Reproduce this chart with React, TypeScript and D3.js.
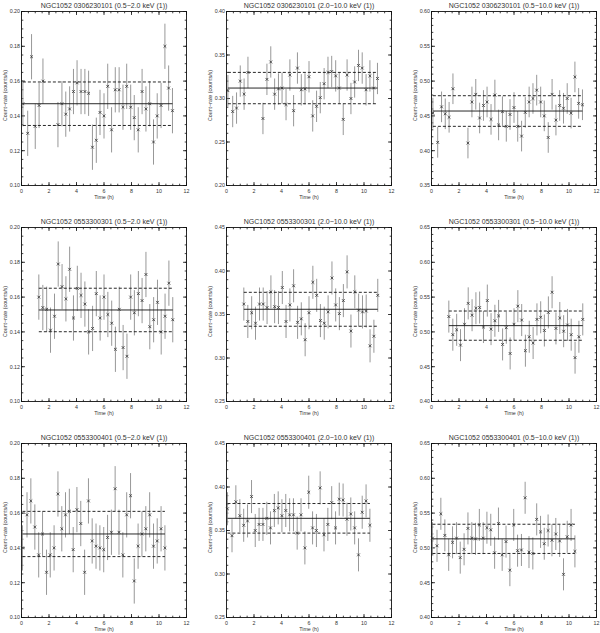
import React, { useEffect, useRef } from 'react';
import * as d3 from 'd3';

// observation time grids (hours)
const times0306 = [0.1, 0.45, 0.73, 1.0, 1.28, 1.56, 2.65, 2.94, 3.22, 3.5, 3.78, 4.04, 4.33, 4.61, 4.88, 5.16, 5.44, 5.71, 6.0, 6.27, 6.55, 6.82, 7.1, 7.38, 7.65, 7.94, 8.2, 8.49, 8.77, 9.05, 9.32, 9.6, 9.87, 10.15, 10.43, 10.7, 10.98];
const times0553a = [1.26, 1.55, 1.83, 2.11, 2.4, 2.67, 2.95, 3.23, 3.5, 3.78, 4.06, 4.33, 4.61, 4.88, 5.17, 5.44, 5.72, 6.0, 6.28, 6.56, 6.83, 7.11, 7.39, 7.67, 7.94, 8.21, 8.5, 8.77, 9.05, 9.33, 9.61, 9.89, 10.16, 10.44, 10.72, 11.0];
const times0553b = [0.07, 0.4, 0.68, 0.97, 1.25, 1.53, 1.82, 2.09, 2.37, 2.65, 2.93, 3.2, 3.48, 3.76, 4.03, 4.31, 4.59, 4.87, 5.14, 5.42, 5.7, 5.98, 6.26, 6.54, 6.81, 7.09, 7.37, 7.65, 7.93, 8.2, 8.48, 8.76, 9.04, 9.32, 9.6, 9.87, 10.15, 10.43];

// count rates (counts/s)
const rate0306Soft = [0.147, 0.130, 0.174, 0.134, 0.146, 0.160, 0.135, 0.147, 0.141, 0.144, 0.154, 0.159, 0.154, 0.154, 0.153, 0.122, 0.126, 0.142, 0.140, 0.157, 0.132, 0.155, 0.155, 0.145, 0.157, 0.145, 0.139, 0.132, 0.154, 0.144, 0.147, 0.125, 0.140, 0.146, 0.180, 0.156, 0.143];
const rate0306Hard = [0.309, 0.285, 0.289, 0.320, 0.305, 0.330, 0.277, 0.322, 0.342, 0.305, 0.311, 0.312, 0.293, 0.327, 0.286, 0.335, 0.310, 0.311, 0.325, 0.280, 0.291, 0.301, 0.317, 0.330, 0.331, 0.326, 0.312, 0.276, 0.327, 0.300, 0.319, 0.338, 0.335, 0.310, 0.326, 0.312, 0.323];
const rate0306Full = [0.454, 0.412, 0.463, 0.453, 0.448, 0.489, 0.411, 0.470, 0.481, 0.447, 0.465, 0.470, 0.445, 0.480, 0.437, 0.456, 0.435, 0.452, 0.462, 0.435, 0.421, 0.455, 0.470, 0.475, 0.487, 0.470, 0.450, 0.419, 0.481, 0.444, 0.465, 0.461, 0.475, 0.454, 0.506, 0.468, 0.466];
const rate0301Soft = [0.160, 0.154, 0.153, 0.141, 0.149, 0.179, 0.166, 0.159, 0.176, 0.148, 0.165, 0.161, 0.156, 0.140, 0.142, 0.162, 0.148, 0.160, 0.150, 0.145, 0.130, 0.153, 0.131, 0.126, 0.160, 0.151, 0.162, 0.158, 0.173, 0.143, 0.147, 0.157, 0.140, 0.149, 0.168, 0.147];
const rate0301Hard = [0.362, 0.342, 0.352, 0.340, 0.362, 0.362, 0.358, 0.376, 0.359, 0.358, 0.381, 0.342, 0.361, 0.383, 0.341, 0.345, 0.321, 0.352, 0.387, 0.372, 0.343, 0.340, 0.353, 0.392, 0.361, 0.351, 0.366, 0.399, 0.331, 0.376, 0.355, 0.353, 0.354, 0.314, 0.325, 0.372];
const rate0301Full = [0.522, 0.496, 0.503, 0.481, 0.511, 0.541, 0.524, 0.534, 0.535, 0.507, 0.545, 0.504, 0.516, 0.523, 0.482, 0.506, 0.469, 0.511, 0.537, 0.517, 0.473, 0.493, 0.484, 0.518, 0.521, 0.502, 0.528, 0.557, 0.505, 0.520, 0.501, 0.510, 0.496, 0.463, 0.493, 0.518];
const rate0401Soft = [0.140, 0.159, 0.167, 0.152, 0.136, 0.148, 0.126, 0.136, 0.140, 0.171, 0.151, 0.159, 0.161, 0.139, 0.162, 0.154, 0.126, 0.167, 0.144, 0.141, 0.140, 0.139, 0.146, 0.149, 0.174, 0.149, 0.136, 0.159, 0.170, 0.121, 0.141, 0.148, 0.151, 0.159, 0.141, 0.144, 0.151, 0.140];
const rate0401Hard = [0.375, 0.344, 0.383, 0.367, 0.356, 0.361, 0.389, 0.350, 0.357, 0.357, 0.364, 0.353, 0.373, 0.376, 0.367, 0.373, 0.368, 0.368, 0.347, 0.368, 0.330, 0.394, 0.353, 0.350, 0.399, 0.345, 0.357, 0.382, 0.353, 0.386, 0.385, 0.363, 0.369, 0.353, 0.322, 0.371, 0.384, 0.356];
const rate0401Full = [0.514, 0.503, 0.549, 0.518, 0.490, 0.508, 0.514, 0.486, 0.498, 0.528, 0.514, 0.513, 0.533, 0.514, 0.529, 0.526, 0.493, 0.535, 0.490, 0.509, 0.468, 0.533, 0.496, 0.497, 0.572, 0.494, 0.492, 0.541, 0.523, 0.506, 0.525, 0.511, 0.520, 0.510, 0.462, 0.516, 0.533, 0.495];

const titles = [
  'NGC1052 0306230101 (0.5\u22122.0 keV (1))',
  'NGC1052 0306230101 (2.0\u221210.0 keV (1))',
  'NGC1052 0306230101 (0.5\u221210.0 keV (1))',
  'NGC1052 0553300301 (0.5\u22122.0 keV (1))',
  'NGC1052 0553300301 (2.0\u221210.0 keV (1))',
  'NGC1052 0553300301 (0.5\u221210.0 keV (1))',
  'NGC1052 0553300401 (0.5\u22122.0 keV (1))',
  'NGC1052 0553300401 (2.0\u221210.0 keV (1))',
  'NGC1052 0553300401 (0.5\u221210.0 keV (1))',
];
const yDomains = [[0.10, 0.20], [0.20, 0.40], [0.35, 0.60], [0.10, 0.20], [0.25, 0.45], [0.40, 0.65], [0.10, 0.20], [0.25, 0.45], [0.40, 0.65]];
const yTickSteps = [0.02, 0.05, 0.05, 0.02, 0.05, 0.05, 0.02, 0.05, 0.05];
const meanLevels = [0.147, 0.312, 0.457, 0.1526, 0.356, 0.509, 0.148, 0.364, 0.513];
const rmsLevels = [0.0125, 0.018, 0.022, 0.0125, 0.0195, 0.021, 0.013, 0.017, 0.021];
const errSizes = [0.013, 0.018, 0.022, 0.013, 0.019, 0.023, 0.013, 0.019, 0.023];

const timeSets = [times0306, times0306, times0306, times0553a, times0553a, times0553a, times0553b, times0553b, times0553b];
const rateSets = [rate0306Soft, rate0306Hard, rate0306Full, rate0301Soft, rate0301Hard, rate0301Full, rate0401Soft, rate0401Hard, rate0401Full];

const W = 600, H = 633;
const font = '"Liberation Sans", Arial, sans-serif';
const small = 5.3;

export default function App() {
  const ref = useRef<SVGSVGElement>(null);

  useEffect(() => {
    const svg = d3.select(ref.current);
    svg.selectAll('*').remove();

    titles.forEach((title, i) => {
      const col = i % 3, row = Math.floor(i / 3);
      const left = 21.5 + col * 205, top = 11.5 + row * 216;
      const w = 165, h = 174;
      const [lo, hi] = yDomains[i];
      const step = yTickSteps[i];
      const x = d3.scaleLinear().domain([0, 12]).range([left, left + w]);
      const y = d3.scaleLinear().domain([lo, hi]).range([top + h, top]);
      const g = svg.append('g');

      // ticks: IDL style, inward on all four sides
      const xMajor = d3.range(7).map(k => k * 2);
      const xMinor = d3.range(25).map(k => k * 0.5);
      const nY = Math.round((hi - lo) / step);
      const yMajor = d3.range(nY + 1).map(k => lo + k * step);
      const minorPer = step === 0.02 ? 4 : 5;
      const yMinor = d3.range(nY * minorPer + 1).map(k => lo + k * step / minorPer);
      const tick = (x1, y1, x2, y2) => g.append('line')
        .attr('x1', x1).attr('y1', y1).attr('x2', x2).attr('y2', y2)
        .attr('stroke', '#111').attr('stroke-width', 0.8);

      xMinor.forEach(v => { tick(x(v), top + h, x(v), top + h - 1.8); tick(x(v), top, x(v), top + 1.8); });
      xMajor.forEach(v => { tick(x(v), top + h, x(v), top + h - 3.5); tick(x(v), top, x(v), top + 3.5); });
      yMinor.forEach(v => { tick(left, y(v), left + 1.8, y(v)); tick(left + w, y(v), left + w - 1.8, y(v)); });
      yMajor.forEach(v => { tick(left, y(v), left + 3.5, y(v)); tick(left + w, y(v), left + w - 3.5, y(v)); });

      g.append('rect').attr('x', left).attr('y', top).attr('width', w).attr('height', h)
        .attr('fill', 'none').attr('stroke', '#111').attr('stroke-width', 0.9);

      g.selectAll('.xl').data(xMajor).enter().append('text')
        .attr('x', d => x(d)).attr('y', top + h + 7.2)
        .attr('text-anchor', 'middle').attr('font-size', small).attr('fill', '#333')
        .attr('font-family', font).text(d => d3.format('d')(d));
      g.selectAll('.yl').data(yMajor).enter().append('text')
        .attr('x', left - 1.5).attr('y', d => y(d) + 1.9)
        .attr('text-anchor', 'end').attr('font-size', small).attr('fill', '#333')
        .attr('font-family', font).text(d => d3.format('.2f')(d));

      g.append('text').attr('x', left + w / 2).attr('y', top + h + 13)
        .attr('text-anchor', 'middle').attr('font-size', small).attr('fill', '#333')
        .attr('font-family', font).text('Time (h)');
      g.append('text')
        .attr('transform', `translate(${left - 16.5},${top + h / 2 - 3}) rotate(-90)`)
        .attr('dy', 1.9).attr('text-anchor', 'middle').attr('font-size', small).attr('fill', '#333')
        .attr('font-family', font).text('Count\u2212rate (counts/s)');
      g.append('text').attr('x', left + w / 2).attr('y', top - 3.5)
        .attr('text-anchor', 'middle').attr('font-size', 7).attr('fill', '#333')
        .attr('font-family', font).text(title);

      const ts = timeSets[i], rs = rateSets[i], e = errSizes[i];
      const pts = ts.map((t, k) => ({ t, r: rs[k] }));

      // error bars
      g.selectAll('.eb').data(pts).enter().append('line')
        .attr('x1', d => x(d.t)).attr('x2', d => x(d.t))
        .attr('y1', d => y(d.r - e)).attr('y2', d => y(d.r + e))
        .attr('stroke', '#8c8c8c').attr('stroke-width', 0.9);

      // mean and +/- rms levels
      const t0 = ts[0], t1 = ts[ts.length - 1];
      const level = (v, dash) => g.append('line')
        .attr('x1', x(t0)).attr('x2', x(t1)).attr('y1', y(v)).attr('y2', y(v))
        .attr('stroke', '#111').attr('stroke-width', 0.9)
        .attr('stroke-dasharray', dash);
      level(meanLevels[i], null);
      level(meanLevels[i] + rmsLevels[i], '3,2');
      level(meanLevels[i] - rmsLevels[i], '3,2');

      // cross markers
      const s = 1.4;
      g.selectAll('.pt').data(pts).enter().append('path')
        .attr('d', d => {
          const cx = x(d.t), cy = y(d.r);
          return `M${cx - s},${cy - s}L${cx + s},${cy + s}M${cx - s},${cy + s}L${cx + s},${cy - s}`;
        })
        .attr('stroke', '#333').attr('stroke-width', 0.8).attr('fill', 'none');
    });
  }, []);

  return (
    <svg ref={ref} width={W} height={H}
      style={{ position: 'absolute', left: 0, top: 0, background: '#fff' }} />
  );
}
